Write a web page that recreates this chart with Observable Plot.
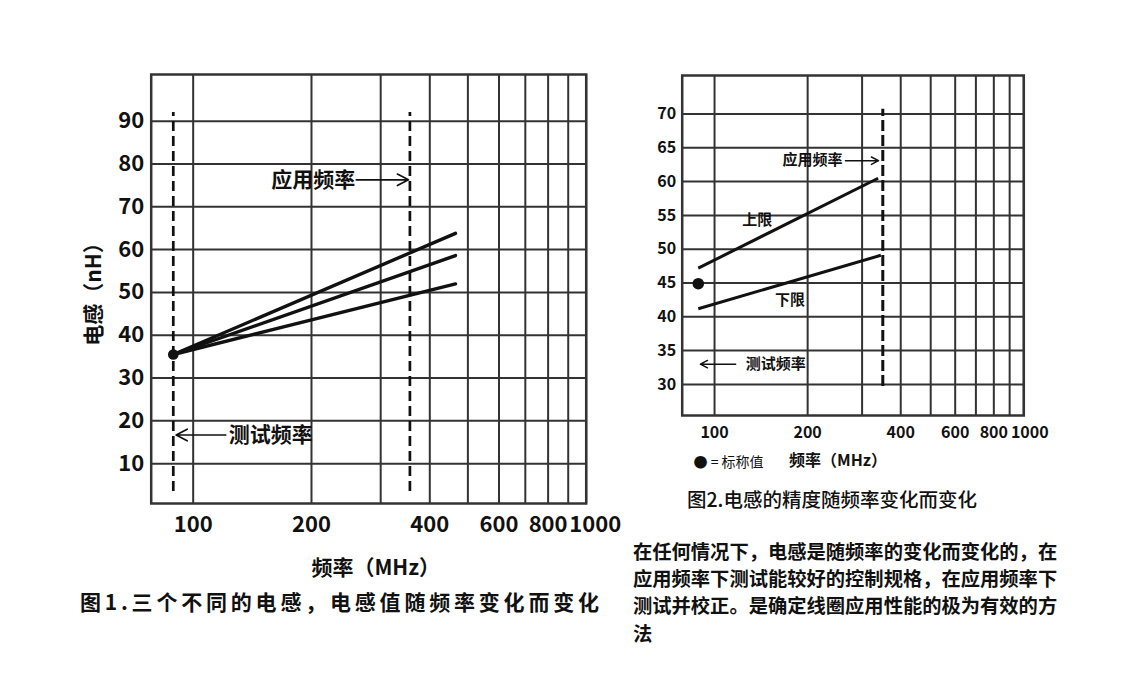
<!DOCTYPE html>
<html>
<head>
<meta charset="utf-8">
<script src="https://cdn.jsdelivr.net/npm/d3@7"></script>
<script src="https://cdn.jsdelivr.net/npm/@observablehq/plot@0.6"></script>
<style>
  html, body { margin: 0; padding: 0; background: #fff; }
  body { width: 1127px; height: 682px; position: relative; overflow: hidden; font-family: "Noto Sans CJK SC", "Noto Sans", sans-serif; color: #111; }
  .abs { position: absolute; }
  #title1 { left: 80px; top: 587px; font-size: 21px; font-weight: 700; letter-spacing: 3.8px; line-height: 28px; white-space: nowrap; }
  #title2 { left: 687px; top: 485px; font-size: 19.5px; font-weight: 500; line-height: 28px; white-space: nowrap; }
  #para { left: 633px; top: 538px; font-size: 19.3px; font-weight: 700; line-height: 27.2px; white-space: nowrap; }
</style>
</head>
<body>
<div id="chart1" class="abs" style="left:0;top:0"></div>
<div id="chart2" class="abs" style="left:630px;top:0"></div>
<div id="title1" class="abs"></div>
<div id="title2" class="abs"></div>
<div id="para" class="abs"></div>
<script>
// ---------- shared ----------
const xTickLabels = [100, 200, 400, 600, 800, 1000];
const xGridValues = [100, 200, 300, 400, 500, 600, 700, 800, 900, 1000];
const xLabel = "频率（MHz）";

// ---------- chart 1 ----------
const c1YTicks = [10, 20, 30, 40, 50, 60, 70, 80, 90];
const c1Series = ["电感A", "电感B", "电感C"];
const c1Freq = [89, 465];
const c1ValuesA = [35.5, 63.8];
const c1ValuesB = [35.5, 58.6];
const c1ValuesC = [35.5, 52.0];
const c1Nominal = {freq: 89, value: 35.5};
const c1DashFreq = [89, 356];
const c1DashRange = [3.5, 92];
const c1Arrows = [
  {text: "应用频率", from: 260, to: 353, value: 76.3, side: "left"},
  {text: "测试频率", from: 121, to: 90.5, value: 16.7, side: "right"}
];
const c1YLabel = "电感（nH）";
const c1Title = "图1.三个不同的电感，电感值随频率变化而变化";

// ---------- chart 2 ----------
const c2YTicks = [30, 35, 40, 45, 50, 55, 60, 65, 70];
const c2Series = ["上限", "下限"];
const c2FreqUpper = [88.6, 338];
const c2ValuesUpper = [47.2, 60.5];
const c2FreqLower = [88.6, 345];
const c2ValuesLower = [41.2, 49.1];
const c2Nominal = {freq: 88.6, value: 44.9};
const c2DashFreq = [350];
const c2DashRange = [29.7, 70.7];
const c2Arrows = [
  {text: "应用频率", from: 265, to: 339, value: 63.1, side: "left"},
  {text: "测试频率", from: 117, to: 90, value: 33.0, side: "right"}
];
const c2SeriesLabels = [
  {text: "上限", freq: 137.4, value: 54.3},
  {text: "下限", freq: 175.4, value: 42.5}
];
const c2Legend = "● = 标称值";
const c2Title = "图2.电感的精度随频率变化而变化";

const paragraphLines = [
  "在任何情况下，电感是随频率的变化而变化的，在",
  "应用频率下测试能较好的控制规格，在应用频率下",
  "测试并校正。是确定线圈应用性能的极为有效的方",
  "法"
];

// ---------- build tables ----------
const c1Rows = [];
[c1ValuesA, c1ValuesB, c1ValuesC].forEach((vals, i) => {
  vals.forEach((v, j) => c1Rows.push({series: c1Series[i], freq: c1Freq[j], value: v}));
});
const c1Dash = c1DashFreq.map(f => ({freq: f, y1: c1DashRange[0], y2: c1DashRange[1]}));

const c2Rows = [];
c2FreqUpper.forEach((f, j) => c2Rows.push({series: c2Series[0], freq: f, value: c2ValuesUpper[j]}));
c2FreqLower.forEach((f, j) => c2Rows.push({series: c2Series[1], freq: f, value: c2ValuesLower[j]}));
const c2Dash = c2DashFreq.map(f => ({freq: f, y1: c2DashRange[0], y2: c2DashRange[1]}));

const FONT = "Noto Sans CJK SC, Noto Sans, sans-serif";
const GRID = "#333";
const INK = "#111";
const lastTick = xTickLabels[xTickLabels.length - 1];

// x tick labels drawn through the x scale, anchored under the frame
function xTickMarks(fontSize, dy, lastDx) {
  return [
    Plot.text(xTickLabels.filter(d => d !== lastTick), {x: d => d, text: d => String(d), frameAnchor: "bottom", dy, lineAnchor: "middle", fontSize, fontWeight: "bold", fill: INK}),
    Plot.text([lastTick], {x: d => d, text: d => String(d), frameAnchor: "bottom", dx: lastDx, dy, lineAnchor: "middle", fontSize, fontWeight: "bold", fill: INK})
  ];
}

// ---------- chart 1 plot ----------
const chart1 = Plot.plot({
  width: 640,
  height: 590,
  marginLeft: 150.7,
  marginRight: 54.3,
  marginTop: 74,
  marginBottom: 87,
  style: {fontFamily: FONT, background: "transparent", overflow: "visible", color: INK},
  x: {type: "log", domain: [78.2, 1000], axis: null},
  y: {domain: [0.7, 100.9]},
  marks: [
    Plot.gridX(xGridValues, {stroke: GRID, strokeOpacity: 1, strokeWidth: 2}),
    Plot.gridY(c1YTicks, {stroke: GRID, strokeOpacity: 1, strokeWidth: 2}),
    Plot.frame({stroke: GRID, strokeWidth: 2.5}),
    ...xTickMarks(22, 21.7, 9),
    Plot.axisY(c1YTicks, {tickSize: 0, tickPadding: 7, fontSize: 22, fontWeight: "bold", tickFormat: d => String(d), label: null}),
    Plot.ruleX(c1Dash, {x: "freq", y1: "y1", y2: "y2", stroke: INK, strokeWidth: 2.7, strokeDasharray: "10,5"}),
    Plot.line(c1Rows, {x: "freq", y: "value", z: "series", stroke: INK, strokeWidth: 3.4, strokeLinecap: "round"}),
    Plot.dot([c1Nominal], {x: "freq", y: "value", r: 5.3, fill: INK}),
    Plot.arrow(c1Arrows, {x1: "from", x2: "to", y1: "value", y2: "value", stroke: INK, strokeWidth: 1.7, headLength: 11, headAngle: 55}),
    Plot.text(c1Arrows.filter(d => d.side === "left"), {x: "from", y: "value", text: "text", textAnchor: "end", dx: -1, fontSize: 21, fontWeight: "bold", fill: INK}),
    Plot.text(c1Arrows.filter(d => d.side === "right"), {x: "from", y: "value", text: "text", textAnchor: "start", dx: 3, fontSize: 21, fontWeight: "bold", fill: INK}),
    Plot.text([c1YLabel], {text: d => d, frameAnchor: "left", rotate: -90, dx: -56.5, textAnchor: "middle", lineAnchor: "middle", fontSize: 21, fontWeight: "bold", fill: INK}),
    Plot.text([xLabel], {text: d => d, frameAnchor: "bottom", dx: 7, dy: 64.7, lineAnchor: "middle", fontSize: 21, fontWeight: "bold", fill: INK})
  ]
});
document.getElementById("chart1").appendChild(chart1);

// ---------- chart 2 plot ----------
const chart2 = Plot.plot({
  width: 420,
  height: 480,
  marginLeft: 51.7,
  marginRight: 26.7,
  marginTop: 75,
  marginBottom: 65,
  style: {fontFamily: FONT, background: "transparent", overflow: "visible", color: INK},
  x: {type: "log", domain: [78.6, 1000], axis: null},
  y: {domain: [25.4, 75.7]},
  marks: [
    Plot.gridX(xGridValues, {stroke: GRID, strokeOpacity: 1, strokeWidth: 2}),
    Plot.gridY(c2YTicks, {stroke: GRID, strokeOpacity: 1, strokeWidth: 2}),
    Plot.frame({stroke: GRID, strokeWidth: 2.5}),
    ...xTickMarks(16, 17, 6),
    Plot.axisY(c2YTicks, {tickSize: 0, tickPadding: 6, fontSize: 16, fontWeight: "bold", tickFormat: d => String(d), label: null}),
    Plot.ruleX(c2Dash, {x: "freq", y1: "y1", y2: "y2", stroke: INK, strokeWidth: 3, strokeDasharray: "11,4"}),
    Plot.line(c2Rows, {x: "freq", y: "value", z: "series", stroke: INK, strokeWidth: 3, strokeLinecap: "butt"}),
    Plot.dot([c2Nominal], {x: "freq", y: "value", r: 5.8, fill: INK}),
    Plot.arrow(c2Arrows, {x1: "from", x2: "to", y1: "value", y2: "value", stroke: INK, strokeWidth: 1.5, headLength: 8, headAngle: 55}),
    Plot.text(c2Arrows.filter(d => d.side === "left"), {x: "from", y: "value", text: "text", textAnchor: "end", dx: -3, fontSize: 15, fontWeight: "bold", fill: INK}),
    Plot.text(c2Arrows.filter(d => d.side === "right"), {x: "from", y: "value", text: "text", textAnchor: "start", dx: 10, fontSize: 15, fontWeight: "bold", fill: INK}),
    Plot.text(c2SeriesLabels, {x: "freq", y: "value", text: "text", fontSize: 15, fontWeight: "bold", fill: INK}),
    Plot.text([xLabel], {text: d => d, frameAnchor: "bottom", dx: -15, dy: 45, lineAnchor: "middle", fontSize: 16, fontWeight: "bold", fill: INK}),
    Plot.text([c2Legend], {text: d => d, frameAnchor: "bottom-left", dx: 11.3, dy: 46.7, textAnchor: "start", lineAnchor: "middle", fontSize: 14, fontWeight: "normal", fill: INK})
  ]
});
document.getElementById("chart2").appendChild(chart2);

document.getElementById("title1").textContent = c1Title;
document.getElementById("title2").textContent = c2Title;
document.getElementById("para").innerHTML = paragraphLines.map(s => s.replace(/&/g, "&amp;").replace(/</g, "&lt;")).join("<br>");
</script>
</body>
</html>
